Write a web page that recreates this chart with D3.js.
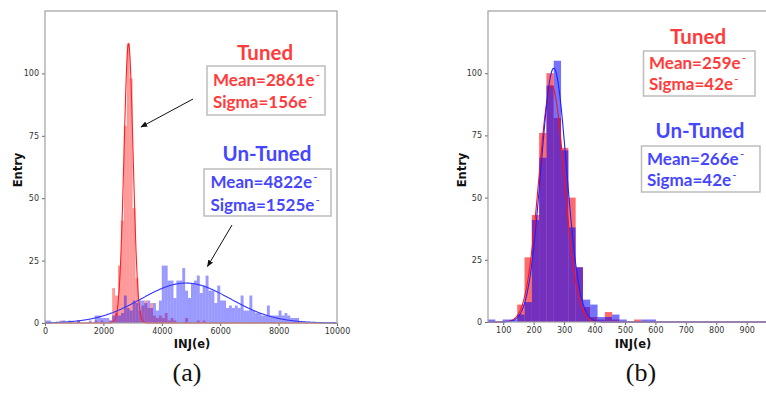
<!DOCTYPE html>
<html>
<head>
<meta charset="utf-8">
<script src="https://cdn.jsdelivr.net/npm/d3@7"></script>
<style>
  body { margin: 0; background: #fff; }
  svg { display: block; }
</style>
</head>
<body>
<div id="chart"></div>
<script>
// ---- data ----
// panel (a): 100 e wide bins starting at 0
const aBinWidth = 100;
const aTunedCounts = [0, 0, 0, 0, 0, 1, 0, 0, 0, 0, 0, 1, 0, 0, 0, 0, 0, 1, 0, 1,
  0, 0, 1, 14, 11, 23, 41, 79, 112, 98, 46, 18, 5, 7, 9, 6, 8, 3, 2, 3,
  2, 4, 1, 2, 1, 0, 0, 0, 2, 0, 0, 0, 1, 0, 1];
const aUntunedCounts = [1, 1, 0, 0, 0, 0, 1, 0, 1, 0, 0, 1, 0, 0, 0, 1, 0, 3, 3, 2,
  2, 2, 1, 3, 4, 3, 4, 11, 6, 5, 9, 8, 9, 9, 8, 9, 6, 8, 5, 9,
  23, 23, 17, 17, 10, 17, 17, 22, 13, 10, 16, 17, 19, 12, 15, 19, 13, 13, 8, 15,
  9, 9, 6, 7, 6, 7, 6, 11, 5, 5, 11, 5, 4, 4, 3, 3, 7, 3, 3, 3,
  5, 3, 4, 3, 2, 2, 2];
const aXTicks = [0, 2000, 4000, 6000, 8000, 10000];

// panel (b): 24 e wide bins starting at 50
const bBinWidth = 24;
const bBinStart = 50;
const bTunedCounts = [0, 0, 0, 0, 7, 26, 43, 76, 100, 82, 70, 50, 22, 6, 2, 1, 4, 1, 0, 0, 1];
const bUntunedCounts = [1, 0, 1, 1, 3, 8, 41, 66, 95, 105, 69, 38, 22, 9, 7, 2, 2, 3, 1, 0, 0, 1, 1];
const bXTicks = [100, 200, 300, 400, 500, 600, 700, 800, 900];

const yTicks = [0, 25, 50, 75, 100];

// gaussian fits: [mean, sigma, height]
const aTunedFit = [2861, 156, 112];
const aUntunedFit = [4822, 1525, 16];
const bTunedFit = [259, 42, 95];
const bUntunedFit = [266, 42, 102];

const RED = '#ff3b3b', BLUE = '#4646ff';

const width = 766, height = 394;
const svg = d3.select('#chart').append('svg')
  .attr('width', width)
  .attr('height', height);
svg.append('rect').attr('width', width).attr('height', height).attr('fill', '#fff');

const panels = [
  {
    box: { left: 45, right: 337, top: 11, bottom: 323 },
    xDomain: [0, 10000], xTicks: aXTicks,
    hists: [
      { start: 0, w: aBinWidth, counts: aTunedCounts, color: '#ff0000', alpha: 0.4 },
      { start: 0, w: aBinWidth, counts: aUntunedCounts, color: '#0000ff', alpha: 0.4 }
    ],
    fits: [[aTunedFit, '#ff2020'], [aUntunedFit, '#3434ff']],
    xLabelX: 192, yLabelX: 18, caption: '(a)', captionX: 187
  },
  {
    box: { left: 488, right: 768, top: 11, bottom: 322 },
    xDomain: [50, 970], xTicks: bXTicks,
    hists: [
      { start: bBinStart, w: bBinWidth, counts: bTunedCounts, color: '#ff0000', alpha: 0.58 },
      { start: bBinStart, w: bBinWidth, counts: bUntunedCounts, color: '#0000ff', alpha: 0.55 }
    ],
    fits: [[bTunedFit, '#ff1010'], [bUntunedFit, '#2020ff']],
    xLabelX: 633, yLabelX: 462, caption: '(b)', captionX: 641
  }
];

svg.append('defs').append('marker')
  .attr('id', 'arrow')
  .attr('viewBox', '0 0 10 10')
  .attr('refX', 9).attr('refY', 5)
  .attr('markerWidth', 7).attr('markerHeight', 7)
  .attr('markerUnits', 'userSpaceOnUse')
  .attr('orient', 'auto')
  .append('path').attr('d', 'M0,1 L10,5 L0,9 Z').attr('fill', '#111');

panels.forEach(p => {
  const b = p.box;
  const x = d3.scaleLinear().domain(p.xDomain).range([b.left, b.right]);
  const y = d3.scaleLinear().domain([0, 125]).range([b.bottom, b.top]);
  const g = svg.append('g');

  // histograms
  p.hists.forEach(h => {
    const bins = h.counts.map((c, i) => ({ x0: h.start + i * h.w, x1: h.start + (i + 1) * h.w, c }))
      .filter(d => d.c > 0);
    g.append('g').selectAll('rect')
      .data(bins)
      .enter()
      .append('rect')
      .attr('x', d => x(d.x0))
      .attr('width', d => x(d.x1) - x(d.x0))
      .attr('y', d => y(d.c))
      .attr('height', d => y(0) - y(d.c))
      .attr('fill', h.color)
      .attr('fill-opacity', h.alpha);
  });

  // fitted normal curves
  p.fits.forEach(([fit, color]) => {
    const [mu, sigma, amp] = fit;
    const xs = d3.range(p.xDomain[0], p.xDomain[1], (p.xDomain[1] - p.xDomain[0]) / 600);
    const line = d3.line()
      .x(v => x(v))
      .y(v => y(amp * Math.exp(-((v - mu) ** 2) / (2 * sigma * sigma))));
    g.append('path')
      .attr('d', line(xs))
      .attr('fill', 'none')
      .attr('stroke', color)
      .attr('stroke-width', 1.1);
  });

  // axes
  const xAxis = g.append('g')
    .attr('transform', 'translate(0,' + b.bottom + ')')
    .call(d3.axisBottom(x).tickValues(p.xTicks).tickFormat(d3.format('d')).tickSize(3).tickPadding(2));
  const yAxis = g.append('g')
    .attr('transform', 'translate(' + b.left + ',0)')
    .call(d3.axisLeft(y).tickValues(yTicks).tickFormat(d3.format('d')).tickSize(3).tickPadding(3));
  [xAxis, yAxis].forEach(a => {
    a.select('.domain').remove();
    a.selectAll('line').attr('stroke', '#666');
    a.selectAll('text').attr('font-family', 'DejaVu Sans').attr('font-size', 8).attr('fill', '#333');
  });

  g.append('rect')
    .attr('x', b.left).attr('y', b.top)
    .attr('width', b.right - b.left).attr('height', b.bottom - b.top)
    .attr('fill', 'none').attr('stroke', '#a0a0a0').attr('stroke-width', 1.2);

  g.append('text')
    .attr('x', p.xLabelX).attr('y', 348)
    .attr('text-anchor', 'middle')
    .attr('font-family', 'DejaVu Sans').attr('font-weight', 'bold').attr('font-size', 11.5)
    .attr('fill', '#111')
    .text('INJ(e)');
  g.append('text')
    .attr('transform', 'translate(' + (p.yLabelX + 4) + ',170) rotate(-90)')
    .attr('text-anchor', 'middle')
    .attr('font-family', 'DejaVu Sans').attr('font-weight', 'bold').attr('font-size', 11.5)
    .attr('fill', '#111')
    .text('Entry');

  g.append('text')
    .attr('x', p.captionX).attr('y', 381)
    .attr('text-anchor', 'middle')
    .attr('font-family', 'Liberation Serif').attr('font-size', 26)
    .attr('fill', '#111')
    .text(p.caption);
});

// annotations
const notes = [
  { title: 'Tuned', tx: 265, ty: 60, color: RED, box: [207, 66, 325, 115],
    lines: [['Mean=2861e', 213, 86], ['Sigma=156e', 213, 108]] },
  { title: 'Un-Tuned', tx: 267, ty: 161, color: BLUE, box: [204, 169, 331, 216],
    lines: [['Mean=4822e', 210.5, 188], ['Sigma=1525e', 210.5, 210.5]] },
  { title: 'Tuned', tx: 698, ty: 44, color: RED, box: [643.5, 51, 755, 96],
    lines: [['Mean=259e', 649, 69], ['Sigma=42e', 649, 89.5]] },
  { title: 'Un-Tuned', tx: 700, ty: 138, color: BLUE, box: [641.5, 146, 760, 192],
    lines: [['Mean=266e', 647, 165], ['Sigma=42e', 647, 185.5]] }
];

notes.forEach(n => {
  svg.append('rect')
    .attr('x', n.box[0]).attr('y', n.box[1])
    .attr('width', n.box[2] - n.box[0]).attr('height', n.box[3] - n.box[1])
    .attr('fill', '#fff').attr('stroke', '#bdbdbd').attr('stroke-width', 1.5);
  svg.append('text')
    .attr('x', n.tx).attr('y', n.ty)
    .attr('text-anchor', 'middle')
    .attr('font-family', 'Lato').attr('font-weight', 'bold').attr('font-size', 20.5)
    .attr('fill', n.color)
    .text(n.title);
  n.lines.forEach(([txt, lx, ly]) => {
    const t = svg.append('text')
      .attr('x', lx).attr('y', ly)
      .attr('font-family', 'Lato').attr('font-weight', 'bold').attr('font-size', 17)
      .attr('fill', n.color)
      .text(txt);
    // superscript minus sign of the electron unit
    const len = t.node().getComputedTextLength();
    svg.append('text')
      .attr('x', lx + len + 1.5).attr('y', ly - 8)
      .attr('font-family', 'Lato').attr('font-weight', 'bold').attr('font-size', 10)
      .attr('fill', n.color)
      .text('-');
  });
});

// arrows pointing at the peaks
const arrows = [[193, 99, 141, 127], [232, 225, 207.5, 266.5]];
svg.selectAll('.arrow')
  .data(arrows)
  .enter()
  .append('line')
  .attr('class', 'arrow')
  .attr('x1', d => d[0]).attr('y1', d => d[1])
  .attr('x2', d => d[2]).attr('y2', d => d[3])
  .attr('stroke', '#111').attr('stroke-width', 1)
  .attr('marker-end', 'url(#arrow)');
</script>
</body>
</html>
